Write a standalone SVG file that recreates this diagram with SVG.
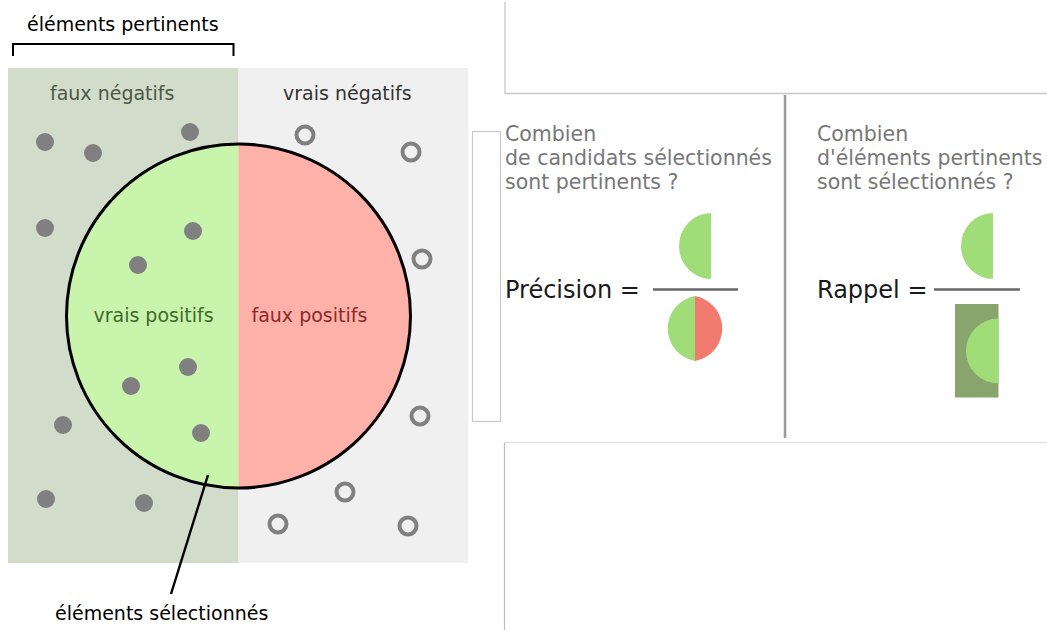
<svg xmlns="http://www.w3.org/2000/svg" width="1047" height="630" viewBox="0 0 1047 630">
<style>
text{font-family:"DejaVu Sans","Liberation Sans",sans-serif}
.lbl{font-size:19px}
.q{font-size:20.5px;fill:#777}
.eq{font-size:24px;fill:#1a1a1a}
.dot{fill:#808080}
.ring{fill:none;stroke:#808080;stroke-width:4}
.frame{fill:none;stroke:#c8c8c8;stroke-width:1.3}
.frac{stroke:#666;stroke-width:2.6}
.g{fill:#a0dc78}
.r{fill:#f27b70}
</style>
<rect width="1047" height="630" fill="#fff"/>
<g id="background">
<rect x="8" y="68" width="230.5" height="495" fill="#d1dccb"/>
<rect x="238.5" y="68" width="229.5" height="495" fill="#f0f0f0"/>
</g>
<g id="selection-circle">
<path d="M238.5,144 A172,172 0 0 0 238.5,488 Z" fill="#c9f4ab"/>
<path d="M238.5,144 A172,172 0 0 1 238.5,488 Z" fill="#feb1a9"/>
<circle cx="238.5" cy="316" r="172" fill="none" stroke="#000" stroke-width="3"/>
</g>
<g id="relevant-dots">
<circle class="dot" cx="45" cy="142" r="9"/>
<circle class="dot" cx="93" cy="153" r="9"/>
<circle class="dot" cx="190" cy="132" r="9"/>
<circle class="dot" cx="45" cy="228" r="9"/>
<circle class="dot" cx="193" cy="231" r="9"/>
<circle class="dot" cx="138" cy="265" r="9"/>
<circle class="dot" cx="188" cy="367" r="9"/>
<circle class="dot" cx="131" cy="386" r="9"/>
<circle class="dot" cx="63" cy="425" r="9"/>
<circle class="dot" cx="201" cy="433" r="9"/>
<circle class="dot" cx="46" cy="499" r="9"/>
<circle class="dot" cx="144" cy="503" r="9"/>
</g>
<g id="irrelevant-rings">
<circle class="ring" cx="305" cy="135" r="8.5"/>
<circle class="ring" cx="411" cy="152" r="8.5"/>
<circle class="ring" cx="422" cy="259" r="8.5"/>
<circle class="ring" cx="420" cy="416" r="8.5"/>
<circle class="ring" cx="345" cy="492" r="8.5"/>
<circle class="ring" cx="278" cy="524" r="8.5"/>
<circle class="ring" cx="408" cy="526" r="8.5"/>
</g>
<g id="region-labels">
<text class="lbl" x="50" y="100" fill="#4b5844">faux négatifs</text>
<text class="lbl" x="283" y="100" fill="#333">vrais négatifs</text>
<text class="lbl" x="153.5" y="322" fill="#3f6b2c" text-anchor="middle">vrais positifs</text>
<text class="lbl" x="251.5" y="322" fill="#8b2a2a">faux positifs</text>
</g>
<g id="relevant-bracket">
<path d="M13,56 V44 H233.5 V56" fill="none" stroke="#000" stroke-width="2"/>
<text class="lbl" x="27" y="31" fill="#000">éléments pertinents</text>
</g>
<g id="connectors">
<line x1="208" y1="475" x2="171" y2="594" stroke="#000" stroke-width="2.4"/>
</g>
<g id="selected-label">
<text class="lbl" x="55" y="620" fill="#000">éléments sélectionnés</text>
</g>
<g id="frames">
<path class="frame" d="M505,2 V93.5 H1047"/>
<rect x="472.5" y="131.5" width="28" height="290" fill="none" stroke="#c8c8c8" stroke-width="1.2"/>
<path d="M505,442.5 H1047" stroke="#e3e3e3" stroke-width="1.5" fill="none"/>
<path d="M504.5,442.5 V630" stroke="#bdbdbd" stroke-width="1.2" fill="none"/>
<line x1="785" y1="95" x2="785" y2="438" stroke="#999" stroke-width="2.5"/>
</g>
<g id="precision">
<text class="q" x="505" y="141">Combien</text>
<text class="q" x="505" y="165">de candidats sélectionnés</text>
<text class="q" x="505" y="189">sont pertinents ?</text>
<text class="eq" x="505" y="298">Précision =</text>
<path class="g" d="M711,213 A32,33 0 0 0 711,279 Z"/>
<line class="frac" x1="653" y1="289.5" x2="738" y2="289.5"/>
<path class="g" d="M695,296 A33,33 0 0 0 695,361 Z"/>
<path class="r" d="M695,296 A33,33 0 0 1 695,361 Z"/>
</g>
<g id="recall">
<text class="q" x="817" y="141">Combien</text>
<text class="q" x="817" y="165">d'éléments pertinents</text>
<text class="q" x="817" y="189">sont sélectionnés ?</text>
<text class="eq" x="817" y="298">Rappel =</text>
<path class="g" d="M993,213 A32,33 0 0 0 993,279 Z"/>
<line class="frac" x1="934" y1="289.5" x2="1020" y2="289.5"/>
<rect x="955" y="304" width="43.5" height="93.5" fill="#87a56c"/>
<path class="g" d="M998.5,318.5 A32.5,32.5 0 0 0 998.5,383.5 Z"/>
</g>
</svg>
